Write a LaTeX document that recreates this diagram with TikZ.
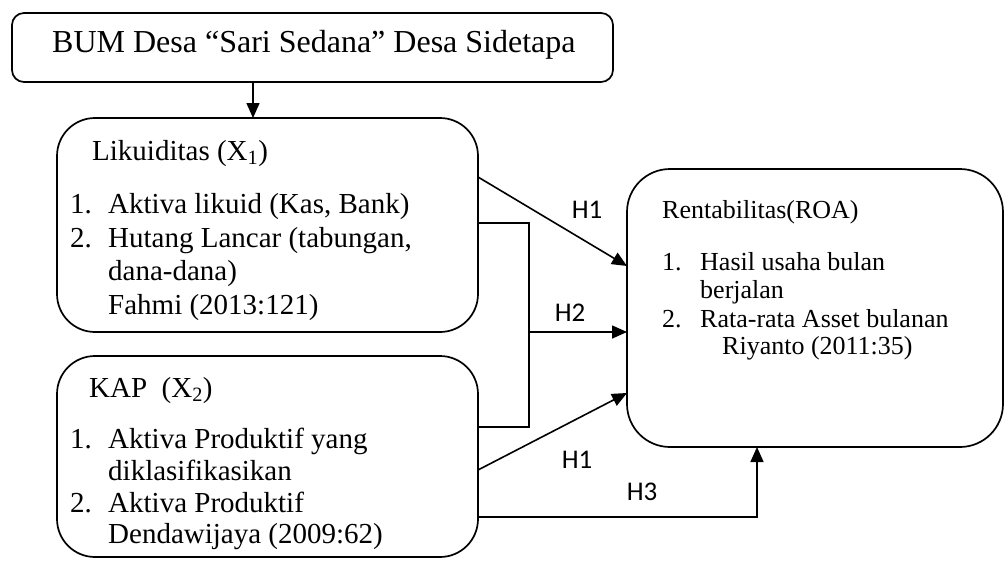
\documentclass[tikz,border=0pt]{standalone}
\usepackage{fontspec}
\setmainfont{Liberation Serif}
\newfontfamily\calibri{Carlito}
\usetikzlibrary{arrows.meta}
\tikzset{
  box/.style={draw, line width=1.7pt},
  conn/.style={line width=1.6pt},
  arr/.style={conn, -{Triangle[length=15pt,width=13pt]}},
  bigtxt/.style={anchor=base west, inner sep=0pt, font=\fontsize{32}{38}\selectfont},
  txt/.style={anchor=base west, inner sep=0pt, font=\fontsize{29}{34}\selectfont},
  stxt/.style={anchor=base west, inner sep=0pt, font=\fontsize{26}{30}\selectfont},
  hlab/.style={anchor=center, inner sep=0pt, font=\calibri\fontsize{27}{30}\selectfont},
}
\begin{document}
\begin{tikzpicture}[x=1pt,y=-1pt]
\useasboundingbox (0,0) rectangle (1007,560);
% boxes
\draw[box, rounded corners=12pt] (12,13) rectangle (613,82);
\coordinate (topbot) at (253,82);
\draw[box, rounded corners=38pt] (57,118) rectangle (478,332);
\coordinate (liktop) at (253,118);
\draw[box, rounded corners=38pt] (57,356) rectangle (478,557);
\draw[box, rounded corners=43pt] (627,169) rectangle (1003,447);

% title
\node[bigtxt] (title) at (52,52) {BUM Desa “Sari Sedana” Desa Sidetapa};

% Likuiditas
\node[txt] (lik) at (92,160) {Likuiditas (X\textsubscript{1})};
\node[txt] (lik1n) at (70,213) {1.};
\node[txt] (lik1) at (108,213) {Aktiva likuid (Kas, Bank)};
\node[txt] (lik2n) at (70,247) {2.};
\node[txt] (lik2) at (108,247) {Hutang Lancar (tabungan,};
\node[txt] (lik2b) at (108,280) {dana-dana)};
\node[txt] (lik3) at (108,314) {Fahmi (2013:121)};

% KAP
\node[txt] (kap) at (89,397) {KAP\ \ (X\textsubscript{2})};
\node[txt] (kap1n) at (70,448) {1.};
\node[txt] (kap1) at (108,448) {Aktiva Produktif yang};
\node[txt] (kap1b) at (108,480) {diklasifikasikan};
\node[txt] (kap2n) at (70,512) {2.};
\node[txt] (kap2) at (108,512) {Aktiva Produktif};
\node[txt] (kap3) at (108,543) {Dendawijaya (2009:62)};

% Rentabilitas
\node[stxt] (ren) at (662,218) {Rentabilitas(ROA)};
\node[stxt] (ren1n) at (662,270) {1.};
\node[stxt] (ren1) at (700,270) {Hasil usaha bulan};
\node[stxt] (ren1b) at (700,298) {berjalan};
\node[stxt] (ren2n) at (662,327) {2.};
\node[stxt] (ren2) at (700,327) {Rata-rata Asset bulanan};
\node[stxt] (ren3) at (722,354) {Riyanto (2011:35)};

% connector coordinates
\coordinate (l1) at (478,177);
\coordinate (r1) at (627,266);
\coordinate (l2) at (478,223);
\coordinate (b2) at (529,223);
\coordinate (b3) at (529,427);
\coordinate (k2) at (478,427);
\coordinate (m2) at (529,332);
\coordinate (r2) at (627,332);
\coordinate (k1) at (478,470);
\coordinate (r3) at (627,393);
\coordinate (k3) at (478,517);
\coordinate (c3) at (757,517);
\coordinate (r4) at (757,447);

\draw[arr] (topbot) -- (liktop);
\draw[arr] (l1) -- (r1);
\draw[conn] (l2) -- (b2) -- (b3) -- (k2);
\draw[arr] (m2) -- (r2);
\draw[arr] (k1) -- (r3);
\draw[arr] (k3) -- (c3) -- (r4);

% labels
\node[hlab] (h1a) at (587,210) {H1};
\node[hlab] (h2) at (570,313) {H2};
\node[hlab] (h1b) at (577,460) {H1};
\node[hlab] (h3) at (642,492) {H3};
\end{tikzpicture}
\end{document}
